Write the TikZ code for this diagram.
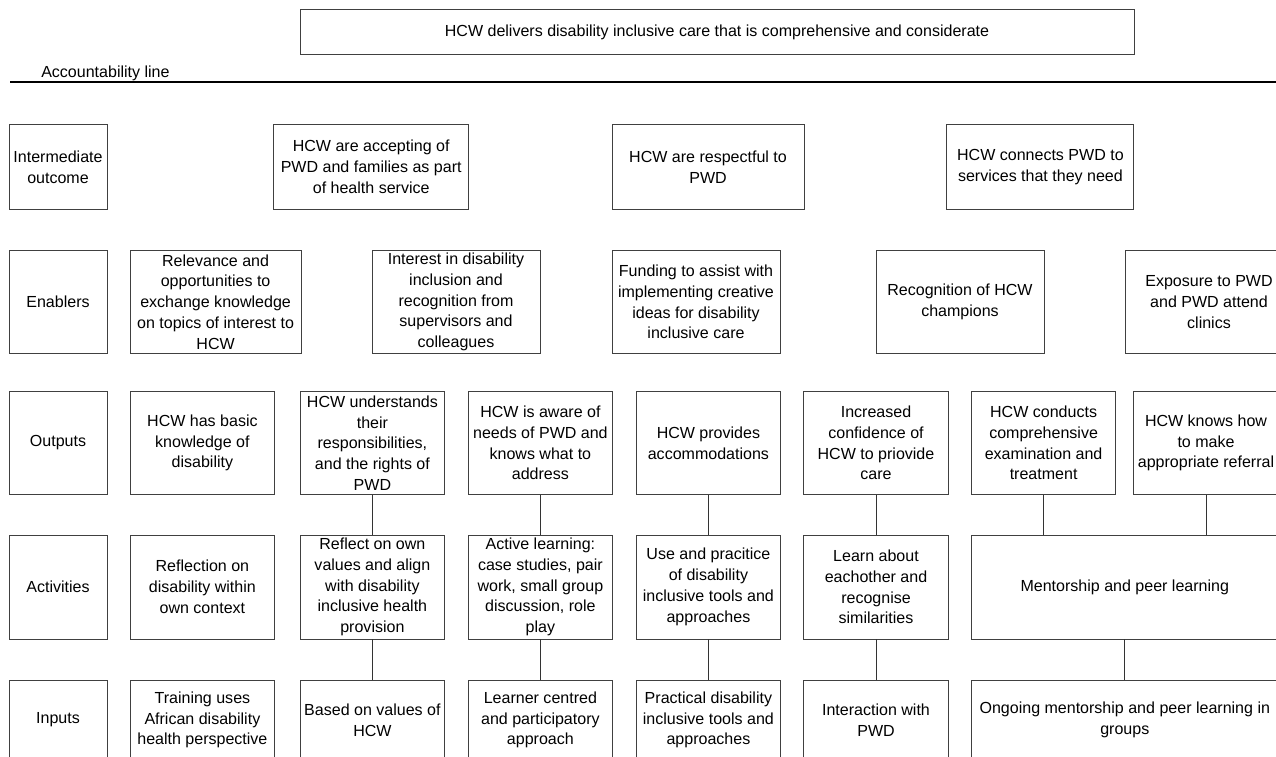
\documentclass[tikz,border=0pt]{standalone}
\usepackage{fontspec}
\setmainfont{Liberation Sans}
\usepackage{tikz}
\usetikzlibrary{positioning}

\begin{document}
\begin{tikzpicture}[
    box/.style={draw=black!75, line width=0.6pt, align=center, inner xsep=2pt, inner ysep=0pt, font=\fontsize{11.4}{14.8}\selectfont},
    link/.style={draw=black!80, line width=0.6pt}
]
                \useasboundingbox (0, 0) rectangle (31.9, -18.9);

                \node[box, minimum width=20.85cm, minimum height=1.125cm] (goal) at (17.925, -0.8) {HCW delivers disability inclusive care that is comprehensive and considerate};
                \node[anchor=base west, inner sep=0pt, font=\fontsize{11.4}{14.8}\selectfont] (acc) at (1.025, -1.925) {Accountability line};
                \draw[line width=1.2pt] (0.25, -2.05) -- (31.9, -2.05);

                \node[box, minimum width=2.45cm, minimum height=2.12cm] (lio) at (1.45, -4.175) {Intermediate\\outcome};
                \node[box, minimum width=4.865cm, minimum height=2.12cm] (io1) at (9.28, -4.175) {HCW are accepting of\\PWD and families as part\\of health service};
                \node[box, minimum width=4.8cm, minimum height=2.12cm] (io2) at (17.7, -4.175) {HCW are respectful to\\PWD};
                \node[box, minimum width=4.675cm, minimum height=2.12cm] (io3) at (26.01, -4.175) {HCW connects PWD to\\services that they need};

                \node[box, minimum width=2.45cm, minimum height=2.56cm] (len) at (1.45, -7.55) {Enablers};
                \node[box, minimum width=4.275cm, minimum height=2.56cm] (en1) at (5.39, -7.55) {Relevance and\\opportunities to\\exchange knowledge\\on topics of interest to\\HCW};
                \node[box, minimum width=4.2cm, minimum height=2.56cm] (en2) at (11.4, -7.55) {Interest in disability\\inclusion and\\recognition from\\supervisors and\\colleagues};
                \node[box, minimum width=4.2cm, minimum height=2.56cm] (en3) at (17.4, -7.55) {Funding to assist with\\implementing creative\\ideas for disability\\inclusive care};
                \node[box, minimum width=4.2cm, minimum height=2.56cm] (en4) at (24.0, -7.55) {Recognition of HCW\\champions};
                \node[box, minimum width=4.2cm, minimum height=2.56cm] (en5) at (30.225, -7.55) {Exposure to PWD\\and PWD attend\\clinics};

                \node[box, minimum width=2.45cm, minimum height=2.565cm] (lout) at (1.45, -11.075) {Outputs};
                \node[box, minimum width=3.61cm, minimum height=2.565cm] (out1) at (5.06, -11.075) {HCW has basic\\knowledge of\\disability};
                \node[box, minimum width=3.61cm, minimum height=2.565cm] (out2) at (9.31, -11.075) {HCW understands\\their\\responsibilities,\\and the rights of\\PWD};
                \node[box, minimum width=3.61cm, minimum height=2.565cm] (out3) at (13.51, -11.075) {HCW is aware of\\needs of PWD and\\knows what to\\address};
                \node[box, minimum width=3.61cm, minimum height=2.565cm] (out4) at (17.71, -11.075) {HCW provides\\accommodations};
                \node[box, minimum width=3.61cm, minimum height=2.565cm] (out5) at (21.9, -11.075) {Increased\\confidence of\\HCW to priovide\\care};
                \node[box, minimum width=3.61cm, minimum height=2.565cm] (out6) at (26.09, -11.075) {HCW conducts\\comprehensive\\examination and\\treatment};
                \node[box, minimum width=3.61cm, minimum height=2.565cm] (out7) at (30.15, -11.075) {HCW knows how\\to make\\appropriate referral};

                \node[box, minimum width=2.45cm, minimum height=2.6cm] (lact) at (1.45, -14.675) {Activities};
                \node[box, minimum width=3.61cm, minimum height=2.6cm] (act1) at (5.06, -14.675) {Reflection on\\disability within\\own context};
                \node[box, minimum width=3.61cm, minimum height=2.6cm] (act2) at (9.31, -14.675) {Reflect on own\\values and align\\with disability\\inclusive health\\provision};
                \node[box, minimum width=3.61cm, minimum height=2.6cm] (act3) at (13.51, -14.675) {Active learning:\\case studies, pair\\work, small group\\discussion, role\\play};
                \node[box, minimum width=3.61cm, minimum height=2.6cm] (act4) at (17.71, -14.675) {Use and pracitice\\of disability\\inclusive tools and\\approaches};
                \node[box, minimum width=3.61cm, minimum height=2.6cm] (act5) at (21.9, -14.675) {Learn about\\eachother and\\recognise\\similarities};
                \node[box, minimum width=7.66cm, minimum height=2.6cm] (ment) at (28.12, -14.675) {Mentorship and peer learning};

                \node[box, minimum width=2.45cm, minimum height=2.0cm] (linp) at (1.45, -18.0) {Inputs};
                \node[box, minimum width=3.61cm, minimum height=2.0cm] (inp1) at (5.06, -18.0) {Training uses\\African disability\\health perspective};
                \node[box, minimum width=3.61cm, minimum height=2.0cm] (inp2) at (9.31, -18.0) {Based on values of\\HCW};
                \node[box, minimum width=3.61cm, minimum height=2.0cm] (inp3) at (13.51, -18.0) {Learner centred\\and participatory\\approach};
                \node[box, minimum width=3.61cm, minimum height=2.0cm] (inp4) at (17.71, -18.0) {Practical disability\\inclusive tools and\\approaches};
                \node[box, minimum width=3.61cm, minimum height=2.0cm] (inp5) at (21.9, -18.0) {Interaction with\\PWD};
                \node[box, minimum width=7.66cm, minimum height=2.0cm] (ong) at (28.12, -18.0) {Ongoing mentorship and peer learning in\\groups};

                \draw[link] (out2) -- (act2);
                \draw[link] (out3) -- (act3);
                \draw[link] (out4) -- (act4);
                \draw[link] (out5) -- (act5);
                \draw[link] (out6.south) -- (out6.south |- ment.north);
                \draw[link] (out7.south) -- (out7.south |- ment.north);
                \draw[link] (act2) -- (inp2);
                \draw[link] (act3) -- (inp3);
                \draw[link] (act4) -- (inp4);
                \draw[link] (act5) -- (inp5);
                \draw[link] (ment) -- (ong);
            \end{tikzpicture}
\end{document}
